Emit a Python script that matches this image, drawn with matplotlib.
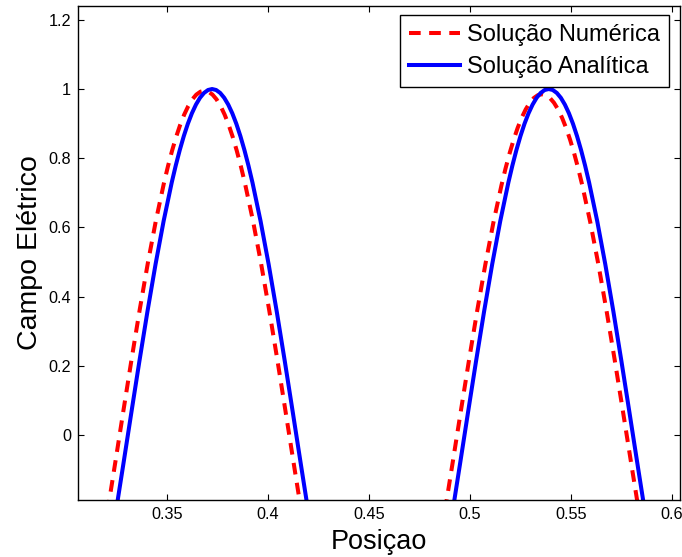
import matplotlib
matplotlib.use("Agg")
import matplotlib.pyplot as plt

plt.rcParams['font.family'] = ['Liberation Sans', 'DejaVu Sans']

# Numerical solution (two arches visible inside the window)
x_num_1 = [0.3205, 0.3245, 0.3285, 0.3325, 0.3365, 0.3405, 0.3445, 0.3485, 0.3505,
           0.3525, 0.3545, 0.3565, 0.3585, 0.3605, 0.3625, 0.3645, 0.3665, 0.3685,
           0.3705, 0.3725, 0.3745, 0.3765, 0.3785, 0.3805, 0.3825, 0.3845, 0.3865,
           0.3885, 0.3925, 0.3965, 0.4005, 0.4045, 0.4085, 0.4125, 0.4165]
e_num_1 = [-0.2214, -0.0744, 0.0744, 0.2214, 0.3635, 0.4975, 0.6204, 0.7294, 0.7779,
           0.8221, 0.8617, 0.8965, 0.9262, 0.9508, 0.9701, 0.9839, 0.9922, 0.9950,
           0.9922, 0.9839, 0.9701, 0.9508, 0.9262, 0.8965, 0.8617, 0.8221, 0.7779,
           0.7294, 0.6204, 0.4975, 0.3635, 0.2214, 0.0744, -0.0744, -0.2214]
x_num_2 = [0.4876, 0.4916, 0.4956, 0.4996, 0.5036, 0.5076, 0.5116, 0.5156, 0.5176,
           0.5196, 0.5216, 0.5236, 0.5256, 0.5276, 0.5296, 0.5316, 0.5336, 0.5356,
           0.5376, 0.5396, 0.5416, 0.5436, 0.5456, 0.5476, 0.5496, 0.5516, 0.5536,
           0.5556, 0.5596, 0.5636, 0.5676, 0.5716, 0.5756, 0.5796, 0.5836]
e_num_2 = [-0.2192, -0.0736, 0.0736, 0.2192, 0.3599, 0.4925, 0.6141, 0.7220, 0.7701,
           0.8138, 0.8530, 0.8875, 0.9169, 0.9412, 0.9603, 0.9740, 0.9822, 0.9850,
           0.9822, 0.9740, 0.9603, 0.9412, 0.9169, 0.8875, 0.8530, 0.8138, 0.7701,
           0.7220, 0.6141, 0.4925, 0.3599, 0.2192, 0.0736, -0.0736, -0.2192]

# Analytical solution
x_ana_1 = [0.3243, 0.3283, 0.3323, 0.3363, 0.3403, 0.3443, 0.3483, 0.3523, 0.3543,
           0.3563, 0.3583, 0.3603, 0.3623, 0.3643, 0.3663, 0.3683, 0.3703, 0.3723,
           0.3743, 0.3763, 0.3783, 0.3803, 0.3823, 0.3843, 0.3863, 0.3883, 0.3903,
           0.3923, 0.3963, 0.4003, 0.4043, 0.4083, 0.4123, 0.4163, 0.4203]
e_ana_1 = [-0.2351, -0.0865, 0.0640, 0.2131, 0.3573, 0.4935, 0.6184, 0.7294, 0.7788,
           0.8238, 0.8641, 0.8996, 0.9299, 0.9549, 0.9746, 0.9887, 0.9972, 1.0000,
           0.9972, 0.9887, 0.9746, 0.9549, 0.9299, 0.8996, 0.8641, 0.8238, 0.7788,
           0.7294, 0.6184, 0.4935, 0.3573, 0.2131, 0.0640, -0.0865, -0.2351]
x_ana_2 = [0.4910, 0.4950, 0.4990, 0.5030, 0.5070, 0.5110, 0.5150, 0.5190, 0.5210,
           0.5230, 0.5250, 0.5270, 0.5290, 0.5310, 0.5330, 0.5350, 0.5370, 0.5390,
           0.5410, 0.5430, 0.5450, 0.5470, 0.5490, 0.5510, 0.5530, 0.5550, 0.5570,
           0.5590, 0.5630, 0.5670, 0.5710, 0.5750, 0.5790, 0.5830, 0.5870]
e_ana_2 = [-0.2351, -0.0865, 0.0640, 0.2131, 0.3573, 0.4935, 0.6184, 0.7294, 0.7788,
           0.8238, 0.8641, 0.8996, 0.9299, 0.9549, 0.9746, 0.9887, 0.9972, 1.0000,
           0.9972, 0.9887, 0.9746, 0.9549, 0.9299, 0.8996, 0.8641, 0.8238, 0.7788,
           0.7294, 0.6184, 0.4935, 0.3573, 0.2131, 0.0640, -0.0865, -0.2351]

x_ticks = [0.35, 0.4, 0.45, 0.5, 0.55, 0.6]
x_tick_labels = ["0.35", "0.4", "0.45", "0.5", "0.55", "0.6"]
y_ticks = [0, 0.2, 0.4, 0.6, 0.8, 1.0, 1.2]
y_tick_labels = ["0", "0.2", "0.4", "0.6", "0.8", "1", "1.2"]

fig = plt.figure(figsize=(6.82, 5.57), dpi=100)
ax = fig.add_axes([78 / 682, 57 / 557, 602 / 682, 494 / 557])

lw = 2.9
dash = (0, (2.9, 2.1))
ax.plot(x_num_1, e_num_1, color="#ff0000", lw=lw, linestyle=dash, label="Solução Numérica")
ax.plot(x_num_2, e_num_2, color="#ff0000", lw=lw, linestyle=dash)
ax.plot(x_ana_1, e_ana_1, color="#0000ff", lw=lw, label="Solução Analítica")
ax.plot(x_ana_2, e_ana_2, color="#0000ff", lw=lw)

ax.set_xlim(0.3059, 0.6040)
ax.set_ylim(-0.188, 1.24)
ax.set_xticks(x_ticks)
ax.set_xticklabels(x_tick_labels)
ax.set_yticks(y_ticks)
ax.set_yticklabels(y_tick_labels)

ax.tick_params(direction="in", length=4.5, width=0.8, top=True, right=True,
               labelsize=11.7, pad=5, colors="black")
for s in ax.spines.values():
    s.set_linewidth(1.0)

ax.set_xlabel("Posiçao", fontsize=19.5, labelpad=5)
ax.set_ylabel("Campo Elétrico", fontsize=20.5, labelpad=4)

leg = ax.legend(loc="upper right", bbox_to_anchor=(0.982, 0.982), fontsize=17,
                frameon=True, fancybox=False, edgecolor="black", framealpha=1,
                handlelength=2.15, handletextpad=0.3, borderpad=0.38,
                labelspacing=0.45, borderaxespad=0.0)
leg.get_frame().set_linewidth(1.0)

fig.savefig("out.png", dpi=100)
